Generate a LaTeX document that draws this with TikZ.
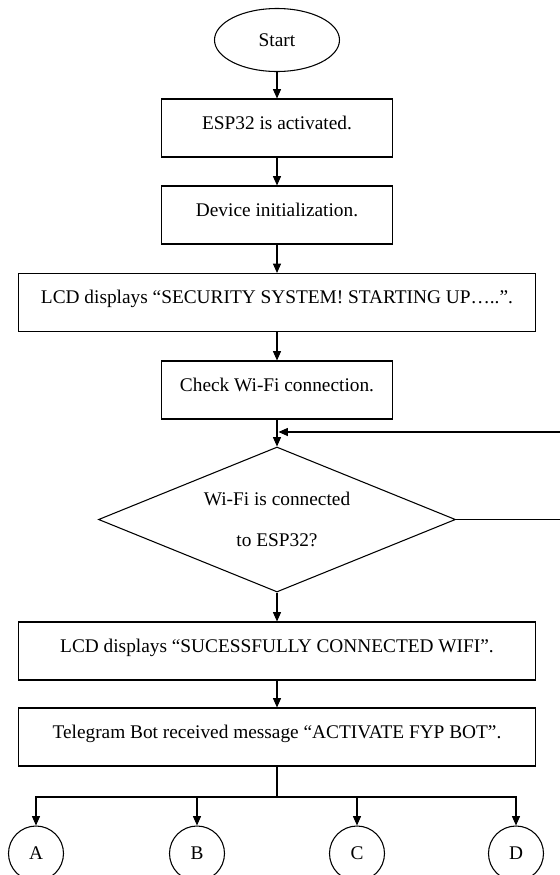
\documentclass[tikz,border=0pt]{standalone}
\usepackage{fontspec}
\setmainfont{Liberation Serif}
\usetikzlibrary{shapes.geometric,arrows.meta}
\tikzset{>={Triangle[length=7pt,width=6pt]}}
\tikzset{
  flow/.style = {line width=0.8pt},
  terminal/.style = {
    ellipse, draw, line width=0.8pt, inner sep=0pt,
    minimum width=93.75pt, minimum height=47.25pt,
    font=\fontsize{14.5}{17}\selectfont
  },
  process/.style = {
    rectangle, draw, line width=0.8pt, inner sep=0pt,
    minimum width=173.25pt, text height=22.5pt, text depth=21pt,
    font=\fontsize{14.5}{17}\selectfont
  },
  wideprocess/.style = {process, minimum width=387.75pt},
  decision/.style = {
    diamond, draw, line width=0.8pt, inner sep=0pt, aspect=2.46,
    minimum width=267.75pt, minimum height=108.75pt, align=center,
    font=\fontsize{14.5}{30.75}\selectfont
  },
  connector/.style = {
    circle, draw, line width=0.8pt, inner sep=0pt,
    minimum size=41.25pt, font=\fontsize{14.5}{17}\selectfont
  }
}

\begin{document}
\begin{tikzpicture}[x=0.75pt,y=-0.75pt]
  \useasboundingbox (0,0) rectangle (560,875);
  % steps
  \node[terminal] (start) at (277,40) {Start};
  \node[process] (esp) at (277,128) {ESP32 is activated.};
  \node[process] (init) at (277,215) {Device initialization.};
  \node[wideprocess] (lcdstart) at (277,302.5) {LCD displays “SECURITY SYSTEM! STARTING UP…..”.};
  \node[process] (check) at (277,390) {Check Wi-Fi connection.};
  \node[decision] (wifi) at (277,519.5) {Wi-Fi is connected\\to ESP32?};
  \node[wideprocess] (lcdwifi) at (277,651) {LCD displays “SUCESSFULLY CONNECTED WIFI”.};
  \node[wideprocess] (bot) at (277,737) {Telegram Bot received message “ACTIVATE FYP BOT”.};
  % off-page connectors
  \foreach \n/\x in {A/36,B/197,C/357,D/516}
    \node[connector] (\n) at (\x,853.5) {\n};
  % arrows
  \draw[flow,->] (start) -- (esp);
  \draw[flow,->] (esp) -- (init);
  \draw[flow,->] (init) -- (lcdstart);
  \draw[flow,->] (lcdstart) -- (check);
  \draw[flow,->] (check) -- (wifi);
  \draw[flow,->] (wifi) -- (lcdwifi);
  \draw[flow,->] (lcdwifi) -- (bot);
  % retry, runs off the right edge
  \coordinate (loop) at (580,432);
  \coordinate (join) at (278.5,432);
  \draw[flow,->] (wifi.east) -| (loop) -- (join);
  % branch to A-D
  \coordinate (split) at (277,797);
  \draw[flow] (bot) -- (split);
  \foreach \n in {A,B,C,D}
    \draw[flow,->] (split) -| (\n);
\end{tikzpicture}
\end{document}
